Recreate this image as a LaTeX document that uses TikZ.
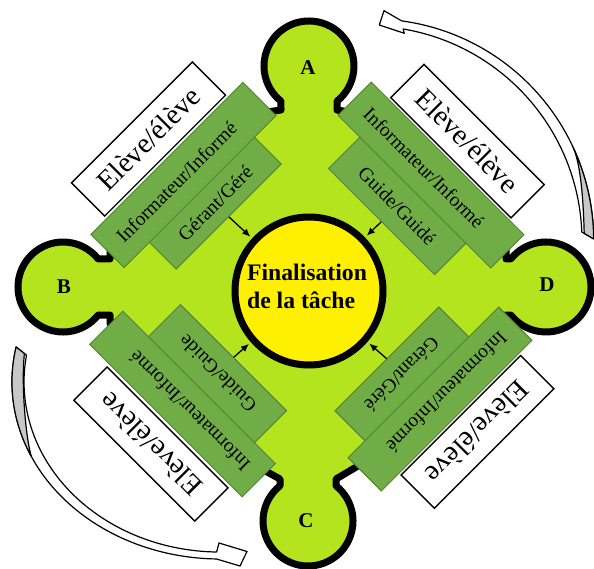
\documentclass[tikz,border=0pt]{standalone}
\usepackage{fontspec}
\setmainfont{Liberation Serif}
\usetikzlibrary{arrows.meta,calc}
\definecolor{lime}{RGB}{180,228,30}
\definecolor{leaf}{RGB}{112,173,71}
\definecolor{leafdark}{RGB}{84,130,53}
\definecolor{sun}{RGB}{255,240,0}
\definecolor{shade}{RGB}{200,200,200}
\begin{document}
\begin{tikzpicture}[x=1pt,y=1pt,
  wbox/.style={draw=black, line width=1.4pt, fill=white, minimum height=47pt, inner sep=0pt, font=\fontsize{28.5}{30}\selectfont},
  gbox/.style={draw=leafdark, line width=1pt, fill=leaf, minimum height=47pt, inner sep=0pt},
  gtext/.style={font=\fontsize{19.5}{21}\selectfont, inner sep=0pt},
  lbl/.style={font=\bfseries\fontsize{21}{22}\selectfont, inner sep=0pt},
  tip/.style={-{Latex[length=8pt,width=7pt]}, line width=1.3pt},
  band/.style={draw=black, line width=1.2pt, line join=round},
]
\useasboundingbox (0,0) rectangle (594,-569);

% green cross shape
\filldraw[fill=lime, draw=black, line width=7pt, line join=round]
 (337,-110) -- (337,-101.2) arc[start angle=-51.5, end angle=231.5, radius=45pt] -- (281,-110)
 -- (256.3,-113.5) -- (122,-247.8) -- (110,-250) -- (110,-259) -- (98.2,-259)
 arc[start angle=38.5, end angle=321.5, radius=45pt] -- (110,-315) -- (110,-324) -- (121,-331.2)
 -- (255.3,-465.5) -- (280,-479) -- (280,-485.8)
 arc[start angle=128.5, end angle=411.5, radius=45pt] -- (336,-479) -- (367.2,-460.5)
 -- (501.5,-326.2) -- (506,-315) -- (510.8,-315)
 arc[start angle=218.5, end angle=501.5, radius=45pt] -- (506,-259) -- (506,-250)
 -- (492.5,-247.8) -- (358.2,-113.5) -- cycle;

% curved arrow top right
\filldraw[band, fill=white]
 (401.7,-20.9) arc[start angle=82.3, end angle=0.44, radius=221.7pt] -- (581.8,-232)
 arc[start angle=2.3, end angle=80.4, radius=214.65pt] -- (404.3,-33.3) -- (379.3,-25) -- (384,-10.7) -- cycle;
\filldraw[band, fill=shade]
 (572.9,-146.9) arc[start angle=25, end angle=0.44, radius=221.7pt] -- (584.2,-233.4)
 .. controls (583.5,-205) and (581.3,-165) .. (572.9,-146.9) -- cycle;

% curved arrow bottom left
\filldraw[band, fill=white]
 (16.1,-347) arc[start angle=168.6, end angle=269, x radius=208pt, y radius=177pt]
 -- (240,-566) -- (247,-551.5) -- (219,-543) -- (216.6,-552)
 arc[start angle=269, end angle=170.9, x radius=196pt, y radius=170pt] -- cycle;
\filldraw[band, fill=shade]
 (16.1,-347) arc[start angle=168.6, end angle=205, x radius=208pt, y radius=177pt]
 .. controls (26,-440) and (21,-385) .. (24.4,-353.5) -- cycle;

% labels of the circles
\node[lbl] (la) at (308,-67.5) {A};
\node[lbl] (lb) at (64,-286.5) {B};
\node[lbl] (lc) at (306,-520.5) {C};
\node[lbl] (ld) at (547,-285) {D};

% central circle
\node[circle, draw=black, line width=7pt, fill=sun, minimum size=148pt, inner sep=0pt, outer sep=6pt] (fin) at (309,-291) {};
\node[font=\bfseries\fontsize{23.7}{27.3}\selectfont, align=left, inner sep=0pt] (fintxt) at (307,-286.5) {Finalisation\\de la tâche};

% top left
\begin{scope}[shift={(183.5,-175)}, rotate=45, transform shape]
  \node[wbox, minimum width=171pt] (wtl) at (0.7,50.2) {Elève/élève};
  \node[gbox, minimum width=148.5pt, minimum height=41.8pt] (r2tl) at (2.5,-40.4) {};
  \node[gtext] (t2tl) at (2.5,-42.4) {Gérant/Géré};
  \node[gbox, minimum width=215pt] (r1tl) at (0,0) {};
  \node[gtext] (t1tl) at (-10,0) {Informateur/Informé};
\end{scope}
% top right
\begin{scope}[shift={(431,-175)}, rotate=-45, transform shape]
  \node[wbox, minimum width=170pt] (wtr) at (1.8,49.8) {Elève/élève};
  \node[gbox, minimum width=150pt, minimum height=48.4pt] (r2tr) at (-2.1,-43.7) {};
  \node[gtext] (t2tr) at (-2.1,-45.7) {Guide/Guidé};
  \node[gbox, minimum width=216pt] (r1tr) at (0,0) {};
  \node[gtext] (t1tr) at (-10,0) {Informateur/Informé};
\end{scope}
% bottom left
\begin{scope}[shift={(182.5,-404)}, rotate=135, transform shape]
  \node[wbox, minimum width=171pt] (wbl) at (-6,50.6) {Elève/élève};
  \node[gbox, minimum width=150pt, minimum height=49.4pt] (r2bl) at (-3.2,-44.2) {};
  \node[gtext] (t2bl) at (-3.2,-46.2) {Guide/Guide};
  \node[gbox, minimum width=215.7pt] (r1bl) at (0,0) {};
  \node[gtext] (t1bl) at (-10,0) {Informateur/Informé};
\end{scope}
% bottom right
\begin{scope}[shift={(440,-399)}, rotate=225, transform shape]
  \node[wbox, minimum width=169pt] (wbr) at (-3.2,49.8) {Elève/élève};
  \node[gbox, minimum width=147pt, minimum height=46.3pt] (r2br) at (9.2,-42.65) {};
  \node[gtext] (t2br) at (9.2,-44.65) {Gérant/Géré};
  \node[gbox, minimum width=213pt] (r1br) at (0,0) {};
  \node[gtext] (t1br) at (-10,0) {Informateur/Informé};
\end{scope}

% small arrows to the central circle
\draw[tip] (r2tl.south) -- (fin);
\draw[tip] (r2tr.south) -- (fin);
\draw[tip] (r2bl.south) -- (fin);
\draw[tip] (r2br.south) -- (fin);
\end{tikzpicture}
\end{document}
